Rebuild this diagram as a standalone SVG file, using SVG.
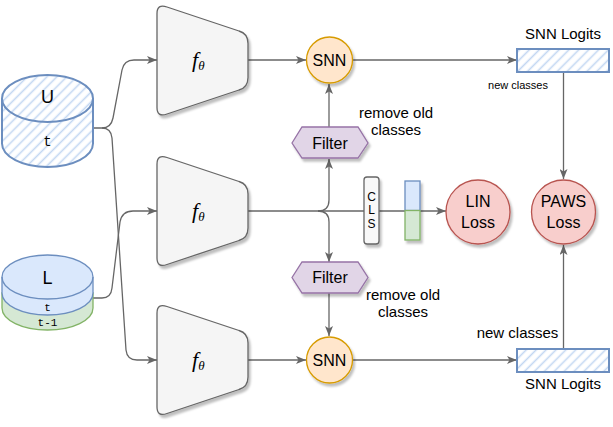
<svg xmlns="http://www.w3.org/2000/svg" width="613" height="427" viewBox="0 0 613 427">
<style>
.conn{fill:none;stroke:#666666;stroke-width:1.3}
.enc{fill:#f5f5f5;stroke:#666666;stroke-width:1.3}
.snn{fill:#ffe6cc;stroke:#d79b00;stroke-width:1.3}
.loss{fill:#f8cecc;stroke:#b85450;stroke-width:1.3}
.filt{fill:#e1d5e7;stroke:#9673a6;stroke-width:1.3}
.lbl{font-family:"Liberation Sans",Arial,sans-serif;font-size:16px;fill:#000;text-anchor:middle}
.ann{font-family:"Liberation Sans",Arial,sans-serif;font-size:15px;fill:#000;text-anchor:middle}
.mono{font-family:"Liberation Mono","Courier New",monospace;fill:#000;text-anchor:middle}
.logit{fill:url(#hatch);stroke:#6c8ebf;stroke-width:2}
</style>
<defs>
<filter id="sh" x="-20%" y="-20%" width="150%" height="150%">
<feDropShadow dx="2" dy="3" stdDeviation="1" flood-color="#000" flood-opacity="0.25"/>
</filter>
<pattern id="hatch" width="7" height="7" patternUnits="userSpaceOnUse" patternTransform="rotate(45)">
<rect width="7" height="7" fill="#ffffff"/>
<line x1="3.5" y1="0" x2="3.5" y2="7" stroke="#c3d7f2" stroke-width="1.6"/>
</pattern>
<path id="trap" d="M0,-47 Q0,-57 10,-53.5 L82,-29.5 Q91,-27 91,-17 L91,17 Q91,27 82,29.5 L10,53.5 Q0,57 0,47 Z"/>
<marker id="arr" markerWidth="10" markerHeight="8" refX="10" refY="4" orient="auto" markerUnits="userSpaceOnUse">
<path d="M0,0 L10,4 L0,8 L2.5,4 Z" fill="#666666"/>
</marker>
</defs>
<rect width="613" height="427" fill="#ffffff"/>

<g id="connectors">
<path class="conn" d="M93,128 L102,128 Q111,128 113,118 L122,70 Q124,60 134,60 L157,60" marker-end="url(#arr)"/>
<path class="conn" d="M102,128 Q111,128 112,138 L126,350 Q127,360 137,360 L157,360" marker-end="url(#arr)"/>
<path class="conn" d="M93,298 L102,298 Q111,298 112,288 L120,222 Q122,211 133,211 L157,211" marker-end="url(#arr)"/>
<path class="conn" d="M248,60 L306,60" marker-end="url(#arr)"/>
<path class="conn" d="M248,360 L306,360" marker-end="url(#arr)"/>
<path class="conn" d="M248,211 L446,211" marker-end="url(#arr)"/>
<path class="conn" d="M318,211 Q329,211 329,200 L329,159" marker-end="url(#arr)"/>
<path class="conn" d="M318,211 Q329,211 329,222 L329,262" marker-end="url(#arr)"/>
<path class="conn" d="M329,127 L329,84" marker-end="url(#arr)"/>
<path class="conn" d="M329,293 L329,336" marker-end="url(#arr)"/>
<path class="conn" d="M352,60 L517,60" marker-end="url(#arr)"/>
<path class="conn" d="M352,360 L517,360" marker-end="url(#arr)"/>
<path class="conn" d="M563.5,72 L563.5,179" marker-end="url(#arr)"/>
<path class="conn" d="M563.5,349 L563.5,245" marker-end="url(#arr)"/>
</g>

<g id="U">
<path d="M2,98.5 A45.5,23.5 0 0 1 93,98.5 L93,143.5 A45.5,23.5 0 0 1 2,143.5 Z" fill="url(#hatch)" stroke="#6c8ebf" stroke-width="2"/>
<path d="M2,98.5 A45.5,23.5 0 0 0 93,98.5" fill="none" stroke="#6c8ebf" stroke-width="2"/>
<text class="lbl" x="47.5" y="103" style="font-size:18px">U</text>
<text class="mono" x="47.5" y="146" style="font-size:14px">t</text>
</g>

<g id="L">
<path d="M2,293 L2,308 A45.5,22 0 0 0 93,308 L93,293 Z" fill="#d5e8d4" stroke="#82b366" stroke-width="1.3"/>
<path d="M2,277 A45.5,22 0 0 1 93,277 L93,293 A45.5,22 0 0 1 2,293 Z" fill="#dae8fc" stroke="#6c8ebf" stroke-width="1.3"/>
<path d="M2,277 A45.5,22 0 0 0 93,277" fill="none" stroke="#6c8ebf" stroke-width="1.3"/>
<text class="lbl" x="47.5" y="284" style="font-size:18px">L</text>
<text class="mono" x="47.5" y="311" style="font-size:11px">t</text>
<text class="mono" x="47.5" y="326" style="font-size:11px">t-1</text>
</g>

<g id="enc_top">
<use href="#trap" class="enc" x="157" y="60.5" filter="url(#sh)"/>
<text x="192" y="67" font-family="'Liberation Serif','DejaVu Serif',serif" font-style="italic" font-size="22" fill="#000">f<tspan dy="3" font-size="13">θ</tspan></text>
</g>
<g id="enc_mid">
<use href="#trap" class="enc" x="157" y="211" filter="url(#sh)"/>
<text x="192" y="218" font-family="'Liberation Serif','DejaVu Serif',serif" font-style="italic" font-size="22" fill="#000">f<tspan dy="3" font-size="13">θ</tspan></text>
</g>
<g id="enc_bot">
<use href="#trap" class="enc" x="157" y="360" filter="url(#sh)"/>
<text x="192" y="367" font-family="'Liberation Serif','DejaVu Serif',serif" font-style="italic" font-size="22" fill="#000">f<tspan dy="3" font-size="13">θ</tspan></text>
</g>

<g id="snn_top">
<circle class="snn" cx="329.5" cy="60" r="23" filter="url(#sh)"/>
<text class="lbl" x="329.5" y="66">SNN</text>
</g>
<g id="snn_bot">
<circle class="snn" cx="329.5" cy="360" r="23" filter="url(#sh)"/>
<text class="lbl" x="329.5" y="366">SNN</text>
</g>

<g id="filter_top">
<polygon class="filt" points="292,143 302,127 358,127 368,143 358,158 302,158" filter="url(#sh)"/>
<text class="lbl" x="330" y="148.5">Filter</text>
</g>
<g id="filter_bot">
<polygon class="filt" points="292,277.5 302,262 358,262 368,277.5 358,293 302,293" filter="url(#sh)"/>
<text class="lbl" x="330" y="283">Filter</text>
</g>

<g id="cls">
<rect x="364" y="177" width="15" height="67" rx="3" fill="#f8f8f8" stroke="#666666" stroke-width="1.3" filter="url(#sh)"/>
<text class="lbl" x="371.5" y="200.5" style="font-size:12px">C</text>
<text class="lbl" x="371.5" y="214" style="font-size:12px">L</text>
<text class="lbl" x="371.5" y="227.5" style="font-size:12px">S</text>
</g>

<g id="embed">
<g filter="url(#sh)">
<rect x="405" y="181" width="15" height="29.5" fill="#dae8fc" stroke="#6c8ebf" stroke-width="1.3"/>
<rect x="405" y="210.5" width="15" height="29.5" fill="#d5e8d4" stroke="#82b366" stroke-width="1.3"/>
</g>
</g>

<g id="lin_loss">
<circle class="loss" cx="478" cy="212" r="32" filter="url(#sh)"/>
<text class="lbl" x="478" y="207">LIN</text>
<text class="lbl" x="478" y="227.5">Loss</text>
</g>
<g id="paws_loss">
<circle class="loss" cx="563.5" cy="212" r="32" filter="url(#sh)"/>
<text class="lbl" x="563.5" y="207">PAWS</text>
<text class="lbl" x="563.5" y="227.5">Loss</text>
</g>

<g id="logits_top">
<rect class="logit" x="517" y="49" width="92" height="23"/>
<text class="ann" x="563" y="39">SNN Logits</text>
<text class="ann" x="518" y="89" style="font-size:11px">new classes</text>
</g>
<g id="logits_bot">
<rect class="logit" x="517" y="349" width="92" height="23"/>
<text class="ann" x="563" y="389">SNN Logits</text>
<text class="ann" x="517.5" y="338">new classes</text>
</g>

<g id="annotations">
<text class="ann" x="396" y="118">remove old</text>
<text class="ann" x="396" y="135">classes</text>
<text class="ann" x="403" y="300">remove old</text>
<text class="ann" x="403" y="317">classes</text>
</g>
</svg>
